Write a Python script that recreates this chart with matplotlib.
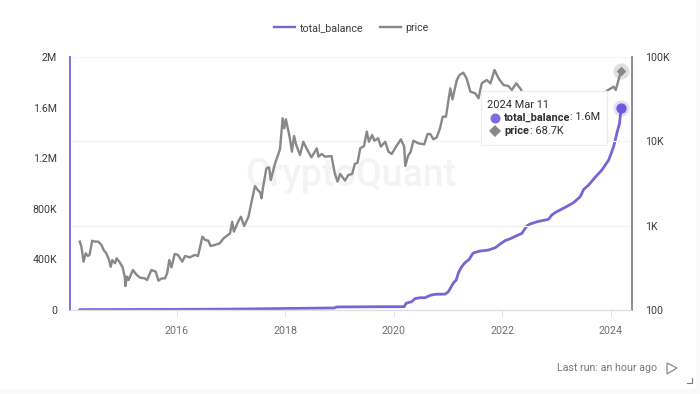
import matplotlib
matplotlib.use("Agg")
import matplotlib.pyplot as plt
from matplotlib.patches import FancyBboxPatch, Polygon
from matplotlib.lines import Line2D

plt.rcParams['font.family'] = ['Roboto', 'DejaVu Sans']

price_years = [2014.21,2014.24,2014.28,2014.32,2014.36,2014.39,2014.44,2014.49,2014.55,2014.61,2014.65,2014.70,2014.75,2014.78,2014.81,2014.86,2014.89,2014.94,
 2015.00,2015.04,2015.05,2015.08,2015.11,2015.15,2015.19,2015.26,2015.32,2015.41,2015.45,2015.53,2015.61,2015.66,2015.72,2015.78,2015.82,2015.86,2015.90,2015.96,
 2016.02,2016.10,2016.15,2016.24,2016.33,2016.39,2016.47,2016.52,2016.58,2016.62,2016.70,2016.79,2016.86,2016.98,
 2017.02,2017.05,2017.13,2017.18,2017.24,2017.32,2017.39,2017.44,2017.49,2017.54,2017.56,2017.59,2017.65,2017.70,2017.73,2017.81,2017.85,2017.90,2017.95,2017.98,
 2018.01,2018.08,2018.12,2018.16,2018.20,2018.27,2018.33,2018.39,2018.48,2018.58,2018.61,2018.67,2018.73,2018.85,2018.91,2018.96,
 2019.01,2019.10,2019.16,2019.23,2019.28,2019.33,2019.38,2019.45,2019.50,2019.54,2019.60,2019.64,2019.71,2019.76,2019.84,2019.90,2019.96,
 2020.02,2020.13,2020.19,2020.21,2020.26,2020.31,2020.36,2020.45,2020.56,2020.62,2020.67,2020.73,2020.79,2020.85,2020.90,2020.96,
 2021.04,2021.08,2021.16,2021.21,2021.28,2021.34,2021.41,2021.50,2021.56,2021.62,2021.71,2021.78,2021.855,2021.93,
 2022.02,2022.11,2022.175,2022.255,2022.34,2022.42,2022.50,2022.70,2022.90,
 2023.10,2023.30,2023.50,2023.70,2023.93,2024.05,2024.09,2024.14,2024.19]
price_values = [647,564,374,470,437,450,664,647,647,590,515,470,391,326,391,358,410,374,
 320,249,192,249,227,260,298,260,242,237,227,298,285,223,237,237,272,391,320,462,
 450,374,437,421,450,437,741,677,664,574,590,618,707,811,
 1116,849,1116,1278,992,1278,2109,2952,2650,2460,2109,2896,4785,4920,3477,5486,6455,8035,18750,14260,
 18250,11140,7540,11560,9060,6890,9900,8260,6455,8260,6575,7080,6575,6695,4180,3330,
 4100,3420,3990,4100,5385,5585,8260,8810,13030,9900,11890,10180,10860,8650,9900,7540,7080,
 8260,10570,8650,5105,6695,7540,10180,9470,9210,12210,12210,10570,11140,14260,19610,19610,
 42470,31480,53340,61240,65170,55850,38810,37070,32360,48750,53340,48750,70140,55850,
 46560,45290,40640,48750,41400,30000,20000,20000,16500,
 23000,28000,30500,26500,39900,44450,40640,53340,68700]

balance_years = [2014.21,2016.0,2017.0,2018.0,2018.9,2018.95,2019.745,2020.19,2020.225,2020.33,2020.39,2020.48,2020.575,2020.67,2020.76,2020.945,
 2021.005,2021.05,2021.10,2021.15,2021.19,2021.25,2021.31,2021.39,2021.455,2021.50,2021.59,2021.745,2021.87,2021.96,
 2022.05,2022.13,2022.36,2022.45,2022.51,2022.67,2022.85,2022.91,2023.00,2023.16,2023.31,2023.435,2023.50,2023.59,2023.71,2023.835,2023.96,
 2024.05,2024.11,2024.16,2024.19]
balance_values = [3000,5000,7000,12000,16000,24000,26000,26000,53000,66000,90000,97000,97000,116000,124000,126000,
 145000,179000,216000,237000,295000,342000,374000,401000,448000,456000,466000,474000,493000,522000,
 548000,561000,606000,664000,680000,701000,717000,751000,777000,812000,848000,896000,954000,988000,1049000,1107000,1186000,
 1291000,1397000,1476000,1600000]

x_ticks = [2016, 2018, 2020, 2022, 2024]
left_ticks = [0, 400000, 800000, 1200000, 1600000, 2000000]
left_labels = ['0', '400K', '800K', '1.2M', '1.6M', '2M']
right_ticks = [100, 1000, 10000, 100000]
right_labels = ['100', '1K', '10K', '100K']

PURPLE = '#7566d4'
GREY = '#87878c'
TXT = '#3c3c40'
FS = 7.7
W, H = 700, 394

def fx(px): return px / W
def fy(py): return 1 - py / H

fig = plt.figure(figsize=(7, 3.94), dpi=100, facecolor='#f9f9fa')
fig.add_artist(FancyBboxPatch((0, fy(389)), fx(696), 1 - fy(389) + 0.02, boxstyle='square,pad=0',
                              transform=fig.transFigure, fc='white', ec='none', zorder=-5))

ax = fig.add_axes([fx(70), fy(310), fx(561.5), 253 / H])
ax.set_facecolor('none')
ax2 = ax.twinx()
ax2.set_facecolor('none')

ax.set_xlim(2014.03, 2024.38)
ax.set_ylim(0, 2000000)
ax2.set_yscale('log')
ax2.set_ylim(100, 100000)

ax.text(0.5, 0.53, 'CryptoQuant', transform=ax.transAxes, ha='center', va='center',
        fontsize=27, color='#f3f3f5', fontweight='medium', zorder=0)

ax.plot(balance_years, balance_values, color=PURPLE, lw=2.0, zorder=3, solid_capstyle='round', label='total_balance')
ax2.plot(price_years, price_values, color=GREY, lw=1.7, zorder=3, solid_joinstyle='round', label='price')

ax.scatter(balance_years[-1], balance_values[-1], s=135, color=PURPLE, alpha=0.2, lw=0, zorder=4, clip_on=False)
ax.scatter(balance_years[-1], balance_values[-1], s=55, color='#6a5ae0', lw=0, zorder=5, clip_on=False)
ax2.scatter(price_years[-1], price_values[-1], s=135, color=GREY, alpha=0.25, lw=0, zorder=4, clip_on=False)
ax2.scatter(price_years[-1], price_values[-1], s=24, marker='D', color=GREY, lw=0, zorder=5, clip_on=False)

ax.set_xticks(x_ticks)
ax.set_xticklabels([str(t) for t in x_ticks])
ax.set_yticks(left_ticks)
ax.set_yticklabels(left_labels)
ax2.set_yticks(right_ticks)
ax2.set_yticklabels(right_labels)
ax2.minorticks_off()

ax.tick_params(axis='x', length=5, width=0.8, color='#e3e3e6', labelsize=FS, labelcolor='#6f6f74', pad=6.5)
ax.tick_params(axis='y', length=0, labelsize=FS, labelcolor=TXT, pad=9.4)
ax2.tick_params(axis='y', length=0, labelsize=FS, labelcolor=TXT, pad=9.7)
ax2.yaxis.grid(True, color='#f3f3f5', lw=0.8)
ax2.set_axisbelow(True)

for a in (ax, ax2):
    for side in ('top', 'left', 'right', 'bottom'):
        a.spines[side].set_visible(False)
ax2.spines['left'].set_visible(True)
ax2.spines['left'].set_color(PURPLE)
ax2.spines['left'].set_linewidth(1.3)
ax2.spines['right'].set_visible(True)
ax2.spines['right'].set_color('#86868a')
ax2.spines['right'].set_linewidth(1.3)
ax2.spines['bottom'].set_visible(True)
ax2.spines['bottom'].set_color('#dedee2')
ax2.spines['bottom'].set_linewidth(0.9)

h1 = Line2D([], [], color=PURPLE, lw=1.7)
h2 = Line2D([], [], color=GREY, lw=1.7)
fig.legend([h1, h2], ['total_balance', 'price'], loc='center', bbox_to_anchor=(fx(351.5), fy(28)),
           ncol=2, frameon=False, fontsize=FS, handlelength=1.9, handletextpad=0.47,
           columnspacing=1.6, labelcolor=TXT, borderpad=0)

# tooltip
TT = 7.9
fig.add_artist(FancyBboxPatch((fx(481), fy(144.5)), fx(126), 53.5 / H, boxstyle='square,pad=0',
                              transform=fig.transFigure, fc='white', ec='#ececef', lw=0.8, zorder=10))
fig.text(fx(487), fy(104.5), '2024 Mar 11', fontsize=TT, color='#2f2f33', va='center', zorder=11)
fig.add_artist(Line2D([fx(495)], [fy(117.5)], marker='o', ms=7.2, color='#7b6be6', mew=0, transform=fig.transFigure, zorder=11))
fig.add_artist(Line2D([fx(495)], [fy(130.5)], marker='D', ms=6, color=GREY, mew=0, transform=fig.transFigure, zorder=11))
fig.text(fx(504), fy(117.5), 'total_balance', fontsize=TT, fontweight='bold', color='#2f2f33', va='center', zorder=11)
fig.text(fx(570.5), fy(117.5), ': 1.6M', fontsize=TT, color='#2f2f33', va='center', zorder=11)
fig.text(fx(504), fy(130.5), 'price', fontsize=TT, fontweight='bold', color='#2f2f33', va='center', zorder=11)
fig.text(fx(530), fy(130.5), ': 68.7K', fontsize=TT, color='#2f2f33', va='center', zorder=11)

# footer
fig.text(fx(657), fy(368), 'Last run: an hour ago', fontsize=FS, color='#77777c', ha='right', va='center')
fig.add_artist(Polygon([(fx(667), fy(363)), (fx(677), fy(368)), (fx(667), fy(374))], closed=True, fc='none',
                       ec='#8b8b90', lw=0.9, transform=fig.transFigure))
fig.add_artist(Line2D([fx(687), fx(692), fx(692)], [fy(383), fy(383), fy(378)], color='#77777c', lw=0.8,
                      transform=fig.transFigure))

fig.savefig('out.png', dpi=100, facecolor=fig.get_facecolor())
